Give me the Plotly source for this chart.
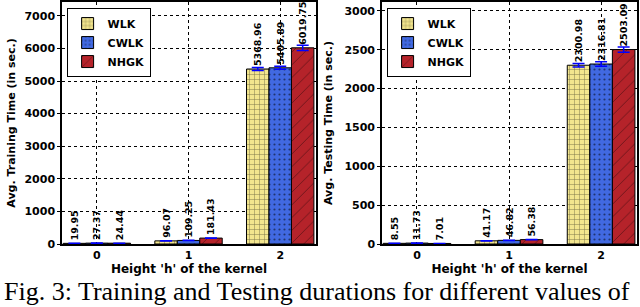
import plotly.graph_objects as go
from plotly.subplots import make_subplots

heights = [0, 1, 2]
tick_labels = ["0", "1", "2"]
methods = ["WLK", "CWLK", "NHGK"]

train_wlk = [19.95, 96.07, 5368.96]
train_cwlk = [27.37, 109.25, 5405.89]
train_nhgk = [24.44, 181.43, 6019.75]
train_err_wlk = [1.5, 4, 45]
train_err_cwlk = [1.5, 5, 45]
train_err_nhgk = [1.5, 6, 80]

test_wlk = [8.55, 41.17, 2300.98]
test_cwlk = [11.73, 46.82, 2316.81]
test_nhgk = [7.01, 56.38, 2503.09]
test_err_wlk = [0.8, 2, 22]
test_err_cwlk = [0.8, 3, 30]
test_err_nhgk = [0.8, 3, 34]

caption = "Fig. 3: Training and Testing durations for different values of"

colors = {"WLK": "#f3e68e", "CWLK": "#4169e1", "NHGK": "#b5232a"}
patterns = {"WLK": dict(shape="+", size=5, solidity=0.18, fgcolor="black"),
            "CWLK": dict(shape=".", size=5, solidity=0.15, fgcolor="black"),
            "NHGK": dict(shape="/", size=9, solidity=0.08, fgcolor="black")}

fig = make_subplots(rows=1, cols=2, horizontal_spacing=0.1)

series = [
    (1, "legend", [train_wlk, train_cwlk, train_nhgk], [train_err_wlk, train_err_cwlk, train_err_nhgk]),
    (2, "legend2", [test_wlk, test_cwlk, test_nhgk], [test_err_wlk, test_err_cwlk, test_err_nhgk]),
]

bold = dict(family="DejaVu Sans", color="black", weight="bold")

for col, leg, vals, errs in series:
    for m, v, e in zip(methods, vals, errs):
        fig.add_trace(go.Bar(
            x=heights, y=v, name=m, legend=leg,
            marker=dict(color=colors[m], pattern=patterns[m],
                        line=dict(color="black", width=1)),
            error_y=dict(type="data", array=e, color="blue", thickness=1.5, width=6),
            text=[f"{x:.2f}" for x in v], textposition="outside", textangle=-90,
            constraintext="none", cliponaxis=False,
            textfont=dict(size=9.5, **bold),
        ), row=1, col=col)

legend_style = dict(xanchor="left", yanchor="top", y=0.975,
                    bordercolor="black", borderwidth=1, bgcolor="white",
                    font=dict(size=11, **bold), tracegroupgap=0, itemwidth=30)

fig.update_layout(
    width=640, height=307,
    margin=dict(l=62, r=3, t=0, b=63),
    plot_bgcolor="white", paper_bgcolor="white",
    barmode="group", bargap=0.265, bargroupgap=0,
    font=dict(family="DejaVu Sans", size=11, color="black"),
    legend=dict(x=0.008, **legend_style),
    legend2=dict(x=0.5565 + 0.008, **legend_style),
    showlegend=True,
)

axis_common = dict(showline=True, mirror=True, linecolor="black", linewidth=1.5,
                   showgrid=True, gridcolor="black", griddash="dot", gridwidth=1,
                   tickcolor="black", zeroline=False,
                   tickfont=dict(size=11, **bold))

fig.update_xaxes(range=[-0.38, 2.39], tickvals=heights, ticktext=tick_labels,
                 ticks="", ticklen=0,
                 title=dict(text="Height 'h' of the kernel", font=dict(size=12, **bold), standoff=3),
                 **axis_common)
fig.update_xaxes(domain=[0, 0.4417], row=1, col=1)
fig.update_xaxes(domain=[0.5565, 1], row=1, col=2)
fig.update_yaxes(range=[0, 7425], tickvals=[0, 1000, 2000, 3000, 4000, 5000, 6000, 7000],
                 ticks="outside", ticklen=3,
                 title=dict(text="Avg. Training Time (in sec.)", font=dict(size=11, **bold), standoff=7),
                 row=1, col=1, **axis_common)
fig.update_yaxes(range=[0, 3115], tickvals=[0, 500, 1000, 1500, 2000, 2500, 3000],
                 ticks="outside", ticklen=3,
                 title=dict(text="Avg. Testing Time (in sec.)", font=dict(size=11, **bold), standoff=10),
                 row=1, col=2, **axis_common)

fig.add_annotation(text=caption, xref="paper", yref="paper", x=-0.104, y=-0.13,
                   xanchor="left", yanchor="top", showarrow=False,
                   font=dict(family="Liberation Serif", size=26, color="black"))

fig.write_html("out.html", config={"displayModeBar": False},
               post_script="document.body.style.margin='0';document.body.style.overflow='hidden';")
